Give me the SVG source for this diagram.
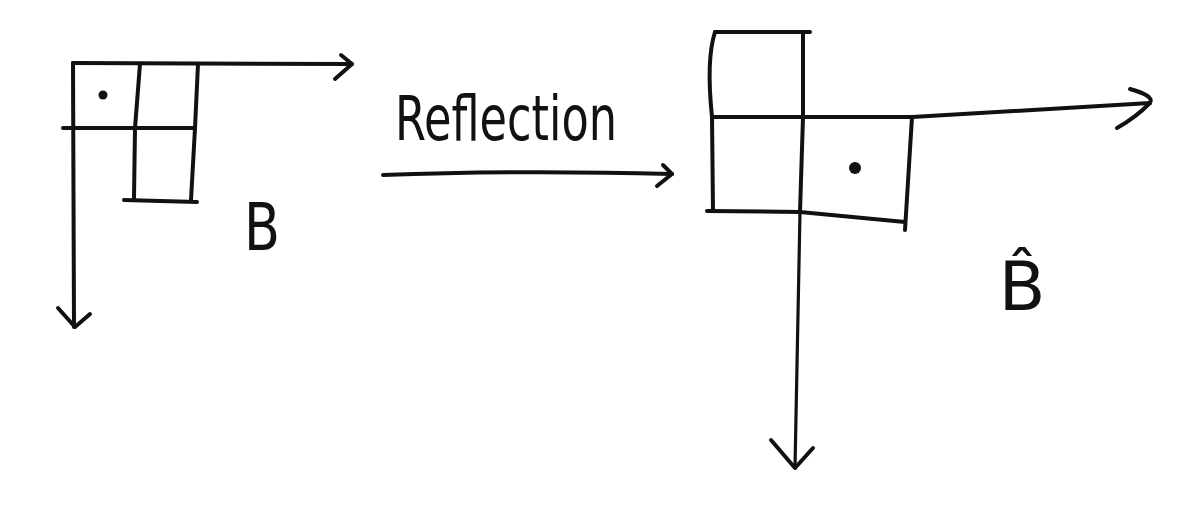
<svg xmlns="http://www.w3.org/2000/svg" width="1187" height="527" viewBox="0 0 1187 527">
<style>
.ln{fill:none;stroke:#111;stroke-width:4;stroke-linecap:round;stroke-linejoin:round}
.th{stroke-width:3.2}
.dot{fill:#111}
.hand{font-family:"DejaVu Sans","Liberation Sans",sans-serif;fill:#111}
</style>
<rect width="1187" height="527" fill="#fff"/>
<g id="B">
  <path class="ln" d="M73,63 L352,64"/>
  <path class="ln" d="M341,55 L352,64 L335,79"/>
  <path class="ln" d="M73,63 L74,327"/>
  <path class="ln" d="M58,308 L75,327 L90,314"/>
  <path class="ln" d="M140,64 L135,128 L134,198"/>
  <path class="ln" d="M198,64 L195,128 L191,200"/>
  <path class="ln" d="M63,128 L195,128"/>
  <path class="ln" d="M124,200 L197,202"/>
  <circle class="dot" cx="103" cy="95" r="4.5"/>
  <text class="hand" x="262" y="250" font-size="66" text-anchor="middle" textLength="36" lengthAdjust="spacingAndGlyphs">B</text>
</g>
<g id="Bhat">
  <path class="ln" d="M715,32 L810,32"/>
  <path class="ln" d="M715,32 Q706,60 712,117 L713,211"/>
  <path class="ln" d="M803,32 L803,117 L800,212"/>
  <path class="ln th" d="M800,212 L795,468"/>
  <path class="ln" d="M771,440 L795,468 L813,448"/>
  <path class="ln" d="M712,117 L912,117 L1150,103"/>
  <path class="ln" d="M1130,89 Q1155,96 1150,103 Q1135,118 1117,128"/>
  <path class="ln" d="M912,117 L905,230"/>
  <path class="ln" d="M707,211 L800,212 L905,222"/>
  <circle class="dot" cx="855" cy="168" r="6"/>
  <text class="hand" x="1022" y="310" font-size="68" text-anchor="middle">B̂</text>
</g>
<g id="connectors">
  <path class="ln" d="M383,175 Q520,170 672,174"/>
  <path class="ln" d="M663,165 L672,174 L657,186"/>
  <text class="hand" x="395" y="140" font-size="62" textLength="222" lengthAdjust="spacingAndGlyphs">Reflection</text>
</g>
</svg>
